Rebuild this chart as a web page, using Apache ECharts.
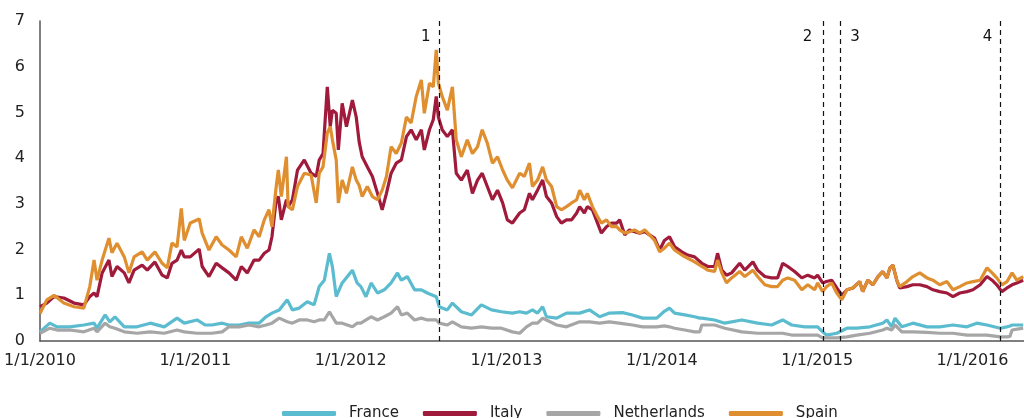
<!DOCTYPE html>
<html lang="en">
<head>
<meta charset="UTF-8">
<title>Spreads vs Bund</title>
<script src="https://cdn.jsdelivr.net/npm/echarts@6/dist/echarts.min.js"></script>
<style>
  html, body { margin: 0; padding: 0; background: #fff; }
  #container { width: 1024px; height: 418px; }
</style>
</head>
<body>
<div id="container"></div>
<script>
// dates sampled for Italy and Spain
var highDates = [
  '2010-01-01','2010-01-17','2010-02-03','2010-02-26','2010-03-22','2010-04-14','2010-04-28','2010-05-08','2010-05-15','2010-05-27',
  '2010-06-12','2010-06-19','2010-07-01','2010-07-18','2010-07-29','2010-08-10','2010-08-29','2010-09-10','2010-09-28','2010-10-15',
  '2010-10-27','2010-11-07','2010-11-19','2010-11-29','2010-12-06','2010-12-20','2011-01-10','2011-01-17','2011-02-02','2011-02-19',
  '2011-03-05','2011-03-21','2011-04-07','2011-04-19','2011-05-03','2011-05-19','2011-05-31','2011-06-12','2011-06-23','2011-06-30',
  '2011-07-10','2011-07-15','2011-07-22','2011-08-03','2011-08-07','2011-08-17','2011-08-29','2011-09-14','2011-09-30','2011-10-12',
  '2011-10-19','2011-10-28','2011-11-07','2011-11-14','2011-11-19','2011-11-28','2011-12-03','2011-12-12','2011-12-22','2012-01-05',
  '2012-01-14','2012-01-21','2012-01-28','2012-02-09','2012-02-21','2012-03-04','2012-03-15','2012-03-25','2012-04-05','2012-04-17',
  '2012-04-29','2012-05-11','2012-05-22','2012-06-03','2012-06-15','2012-06-22','2012-07-04','2012-07-13','2012-07-20','2012-07-25',
  '2012-08-03','2012-08-15','2012-08-27','2012-09-05','2012-09-17','2012-10-01','2012-10-13','2012-10-25','2012-11-05','2012-11-17',
  '2012-11-29','2012-12-11','2012-12-23','2013-01-03','2013-01-15','2013-02-01','2013-02-12','2013-02-24','2013-03-03','2013-03-15',
  '2013-03-27','2013-04-05','2013-04-17','2013-04-29','2013-05-10','2013-05-22','2013-06-03','2013-06-15','2013-06-22','2013-07-03',
  '2013-07-10','2013-07-22','2013-08-03','2013-08-12','2013-08-24','2013-09-05','2013-09-17','2013-09-24','2013-10-06','2013-10-17',
  '2013-10-29','2013-11-10','2013-11-22','2013-12-03','2013-12-15','2013-12-27','2014-01-07','2014-01-19','2014-01-31','2014-02-17',
  '2014-03-03','2014-03-19','2014-04-05','2014-04-19','2014-05-05','2014-05-12','2014-05-22','2014-06-02','2014-06-14','2014-07-03',
  '2014-07-15','2014-08-03','2014-08-14','2014-08-31','2014-09-16','2014-09-30','2014-10-12','2014-10-24','2014-11-09','2014-11-26',
  '2014-12-10','2014-12-26','2015-01-02','2015-01-14','2015-01-23','2015-02-04','2015-02-16','2015-02-28','2015-03-12','2015-03-26',
  '2015-04-11','2015-04-18','2015-04-30','2015-05-12','2015-05-24','2015-06-04','2015-06-14','2015-06-21','2015-06-28','2015-07-07',
  '2015-07-14','2015-07-31','2015-08-14','2015-08-30','2015-09-16','2015-09-30','2015-10-16','2015-11-02','2015-11-16','2015-12-02',
  '2015-12-19','2016-01-02','2016-01-19','2016-02-04','2016-02-16','2016-02-27','2016-03-10','2016-03-22','2016-04-03','2016-04-14',
  '2016-04-29'
];
var italy = [
  0.75,0.83,0.97,0.94,0.83,0.79,0.97,1.05,0.97,1.49,
  1.77,1.41,1.63,1.49,1.27,1.55,1.66,1.55,1.73,1.44,
  1.38,1.70,1.77,1.99,1.84,1.84,2.01,1.63,1.41,1.70,
  1.60,1.49,1.33,1.63,1.49,1.77,1.77,1.92,1.99,2.28,
  3.09,3.16,2.65,3.09,2.94,3.09,3.74,3.96,3.67,3.60,
  3.96,4.10,5.56,4.69,5.05,4.98,4.18,5.20,4.69,5.27,
  4.90,4.35,4.03,3.81,3.60,3.23,2.87,3.23,3.67,3.89,
  3.96,4.47,4.62,4.40,4.62,4.18,4.62,4.84,5.35,4.90,
  4.62,4.47,4.62,3.67,3.52,3.74,3.23,3.52,3.67,3.38,
  3.09,3.30,3.02,2.65,2.58,2.80,2.87,3.23,3.09,3.30,
  3.52,3.16,3.02,2.72,2.58,2.65,2.65,2.80,2.94,2.80,
  2.94,2.87,2.58,2.36,2.50,2.58,2.58,2.65,2.32,2.43,
  2.39,2.36,2.39,2.32,2.25,1.99,2.20,2.28,2.06,1.95,
  1.88,1.84,1.70,1.63,1.63,1.92,1.55,1.44,1.49,1.70,
  1.55,1.73,1.55,1.41,1.38,1.38,1.70,1.63,1.52,1.38,
  1.44,1.38,1.44,1.27,1.30,1.33,1.16,1.00,1.12,1.16,
  1.30,1.08,1.33,1.23,1.41,1.52,1.38,1.60,1.66,1.33,
  1.16,1.19,1.23,1.23,1.19,1.12,1.08,1.05,0.97,1.05,
  1.08,1.12,1.23,1.41,1.33,1.23,1.08,1.16,1.23,1.27,
  1.33
];
var spain = [
  0.60,0.90,1.00,0.83,0.75,0.72,1.19,1.77,1.33,1.77,
  2.25,1.93,2.14,1.84,1.49,1.84,1.95,1.77,1.95,1.70,
  1.60,2.14,2.06,2.90,2.20,2.58,2.67,2.36,1.99,2.28,
  2.10,1.99,1.84,2.28,2.03,2.43,2.28,2.65,2.87,2.50,
  3.38,3.74,3.16,4.03,2.94,2.87,3.38,3.67,3.63,3.02,
  3.67,3.81,4.55,4.69,4.40,3.96,3.02,3.52,3.23,3.81,
  3.52,3.40,3.16,3.38,3.16,3.09,3.30,3.60,4.25,4.10,
  4.33,4.90,4.77,5.35,5.71,4.98,5.64,5.56,6.37,5.64,
  5.35,5.05,5.56,4.40,4.03,4.40,4.10,4.25,4.62,4.33,
  3.89,4.03,3.74,3.52,3.35,3.67,3.60,3.89,3.38,3.52,
  3.81,3.52,3.38,2.94,2.87,2.94,3.02,3.09,3.30,3.09,
  3.23,2.94,2.72,2.58,2.65,2.50,2.50,2.43,2.36,2.39,
  2.43,2.36,2.43,2.32,2.20,1.95,2.03,2.14,1.99,1.88,
  1.81,1.73,1.63,1.55,1.52,1.77,1.49,1.27,1.38,1.52,
  1.41,1.55,1.41,1.23,1.19,1.19,1.33,1.38,1.33,1.12,
  1.23,1.12,1.27,1.08,1.19,1.27,1.05,0.90,1.12,1.16,
  1.30,1.08,1.33,1.23,1.41,1.52,1.38,1.60,1.66,1.33,
  1.19,1.30,1.41,1.49,1.38,1.33,1.23,1.30,1.12,1.19,
  1.27,1.30,1.33,1.60,1.49,1.38,1.23,1.30,1.49,1.33,
  1.41
];

// dates sampled for France and the Netherlands
var lowDates = [
  '2010-01-01','2010-01-24','2010-02-10','2010-03-12','2010-04-14','2010-05-08','2010-05-15','2010-06-03','2010-06-14','2010-06-26',
  '2010-07-18','2010-08-17','2010-09-17','2010-10-20','2010-11-19','2010-12-06','2011-01-05','2011-01-24','2011-02-09','2011-03-05',
  '2011-03-21','2011-04-14','2011-05-07','2011-05-31','2011-06-16','2011-06-30','2011-07-17','2011-08-05','2011-08-17','2011-09-02',
  '2011-09-21','2011-10-07','2011-10-19','2011-10-31','2011-11-12','2011-11-19','2011-11-28','2011-12-12','2012-01-05','2012-01-16',
  '2012-01-25','2012-02-06','2012-02-18','2012-03-04','2012-03-20','2012-04-05','2012-04-20','2012-04-29','2012-05-13','2012-05-30',
  '2012-06-15','2012-06-29','2012-07-20','2012-07-27','2012-08-15','2012-08-27','2012-09-17','2012-10-11','2012-11-03','2012-11-27',
  '2012-12-20','2013-01-15','2013-02-01','2013-02-17','2013-03-03','2013-03-15','2013-03-27','2013-04-05','2013-04-29','2013-05-22',
  '2013-06-22','2013-07-15','2013-08-08','2013-08-31','2013-10-01','2013-10-24','2013-11-17','2013-12-20','2014-01-07','2014-01-19',
  '2014-01-31','2014-02-24','2014-03-19','2014-03-31','2014-04-05','2014-05-05','2014-05-29','2014-07-08','2014-08-14','2014-09-16',
  '2014-10-12','2014-11-02','2014-12-03','2015-01-02','2015-01-14','2015-01-23','2015-02-16','2015-03-12','2015-04-04','2015-05-05',
  '2015-06-04','2015-06-14','2015-06-25','2015-07-03','2015-07-19','2015-08-14','2015-09-16','2015-10-16','2015-11-16','2015-12-19',
  '2016-01-11','2016-02-04','2016-03-06','2016-03-22','2016-03-29','2016-04-03','2016-04-29'
];
var france = [
  0.20,0.39,0.31,0.31,0.35,0.39,0.28,0.57,0.42,0.53,
  0.31,0.31,0.39,0.31,0.50,0.39,0.46,0.35,0.35,0.39,
  0.35,0.35,0.39,0.39,0.53,0.61,0.68,0.90,0.68,0.72,
  0.86,0.79,1.19,1.33,1.92,1.63,0.97,1.27,1.55,1.27,
  1.19,0.97,1.27,1.05,1.12,1.27,1.49,1.33,1.41,1.12,
  1.12,1.05,0.97,0.75,0.68,0.83,0.64,0.57,0.79,0.68,
  0.64,0.61,0.64,0.61,0.68,0.61,0.75,0.53,0.50,0.61,
  0.61,0.68,0.53,0.61,0.62,0.57,0.50,0.50,0.65,0.72,
  0.61,0.57,0.53,0.50,0.50,0.46,0.39,0.46,0.39,0.35,
  0.46,0.35,0.31,0.31,0.20,0.13,0.17,0.28,0.28,0.31,
  0.39,0.46,0.31,0.50,0.31,0.39,0.31,0.31,0.35,0.31,
  0.39,0.35,0.28,0.31,0.33,0.35,0.35
];
var netherlands = [
  0.17,0.28,0.24,0.24,0.20,0.28,0.20,0.39,0.31,0.28,
  0.20,0.17,0.20,0.17,0.24,0.20,0.17,0.17,0.17,0.20,
  0.31,0.31,0.35,0.31,0.35,0.39,0.50,0.42,0.39,0.46,
  0.46,0.42,0.46,0.46,0.64,0.53,0.39,0.39,0.31,0.39,
  0.39,0.46,0.53,0.46,0.53,0.61,0.75,0.57,0.61,0.46,
  0.50,0.46,0.46,0.39,0.35,0.42,0.31,0.28,0.31,0.28,
  0.28,0.20,0.17,0.31,0.39,0.39,0.50,0.46,0.35,0.31,
  0.42,0.42,0.39,0.42,0.38,0.35,0.31,0.31,0.33,0.31,
  0.28,0.24,0.20,0.20,0.35,0.35,0.28,0.20,0.17,0.17,
  0.17,0.13,0.13,0.13,0.07,0.07,0.07,0.09,0.13,0.17,
  0.24,0.28,0.24,0.35,0.20,0.20,0.19,0.17,0.17,0.13,
  0.13,0.13,0.09,0.09,0.10,0.24,0.28
];

// policy events marked with dashed lines
var eventDates = ['2012-07-26', '2015-01-16', '2015-02-24', '2016-03-07'];
var eventLabels = ['1', '2', '3', '4'];
var eventLabelShift = [-13, -16, 15, -13];

var chart = echarts.init(document.getElementById('container'));

function pairs(dates, vals) {
    return dates.map(function (d, i) { return [d, vals[i]]; });
}

var font = 'DejaVu Sans';
var YEAR = 365 * 24 * 3600 * 1000;

var option = {
    animation: false,
    grid: { left: 40, right: 0, top: 21, bottom: 77 },
    legend: {
        left: 277,
        top: 401,
        itemWidth: 54,
        itemHeight: 5,
        itemGap: 24,
        icon: 'roundRect',
        textStyle: { fontFamily: font, fontSize: 15, color: '#222', padding: [0, 0, 0, 8] },
        data: ['France', 'Italy', 'Netherlands', 'Spain']
    },
    xAxis: {
        type: 'time',
        min: '2010-01-01',
        max: '2016-05-01',
        minInterval: YEAR,
        maxInterval: YEAR * 1.01,
        axisLine: { lineStyle: { color: '#555', width: 1.5 } },
        axisTick: { show: false },
        splitLine: { show: false },
        axisLabel: {
            formatter: function (v) {
                var d = new Date(v);
                return (d.getMonth() + 1) + '/' + d.getDate() + '/' + d.getFullYear();
            },
            fontFamily: font,
            fontSize: 16,
            color: '#222',
            margin: 12,
            showMinLabel: true
        }
    },
    yAxis: {
        type: 'value',
        min: 0,
        max: 7,
        interval: 1,
        axisLine: { show: true, lineStyle: { color: '#555', width: 1.5 } },
        axisTick: { show: false },
        splitLine: { show: false },
        axisLabel: { fontFamily: font, fontSize: 16, color: '#222', margin: 15 }
    },
    series: [
        {
            name: 'France', type: 'line', showSymbol: false,
            lineStyle: { width: 3.2, color: '#5bbccf' }, itemStyle: { color: '#5bbccf' },
            data: pairs(lowDates, france)
        },
        {
            name: 'Italy', type: 'line', showSymbol: false,
            lineStyle: { width: 3.2, color: '#a01a3b' }, itemStyle: { color: '#a01a3b' },
            data: pairs(highDates, italy)
        },
        {
            name: 'Netherlands', type: 'line', showSymbol: false,
            lineStyle: { width: 3.2, color: '#a6a6a6' }, itemStyle: { color: '#a6a6a6' },
            data: pairs(lowDates, netherlands)
        },
        {
            name: 'Spain', type: 'line', showSymbol: false,
            lineStyle: { width: 3.2, color: '#df8f30' }, itemStyle: { color: '#df8f30' },
            data: pairs(highDates, spain),
            markLine: {
                silent: true,
                symbol: 'none',
                animation: false,
                lineStyle: { color: '#111', type: [5, 4], width: 1.2 },
                data: eventDates.map(function (d, i) {
                    return {
                        xAxis: d,
                        label: {
                            show: true,
                            position: 'end',
                            formatter: eventLabels[i],
                            fontFamily: font,
                            fontSize: 15,
                            color: '#111',
                            distance: 0,
                            offset: [eventLabelShift[i], 24]
                        }
                    };
                })
            }
        }
    ]
};

chart.setOption(option);
</script>
</body>
</html>
